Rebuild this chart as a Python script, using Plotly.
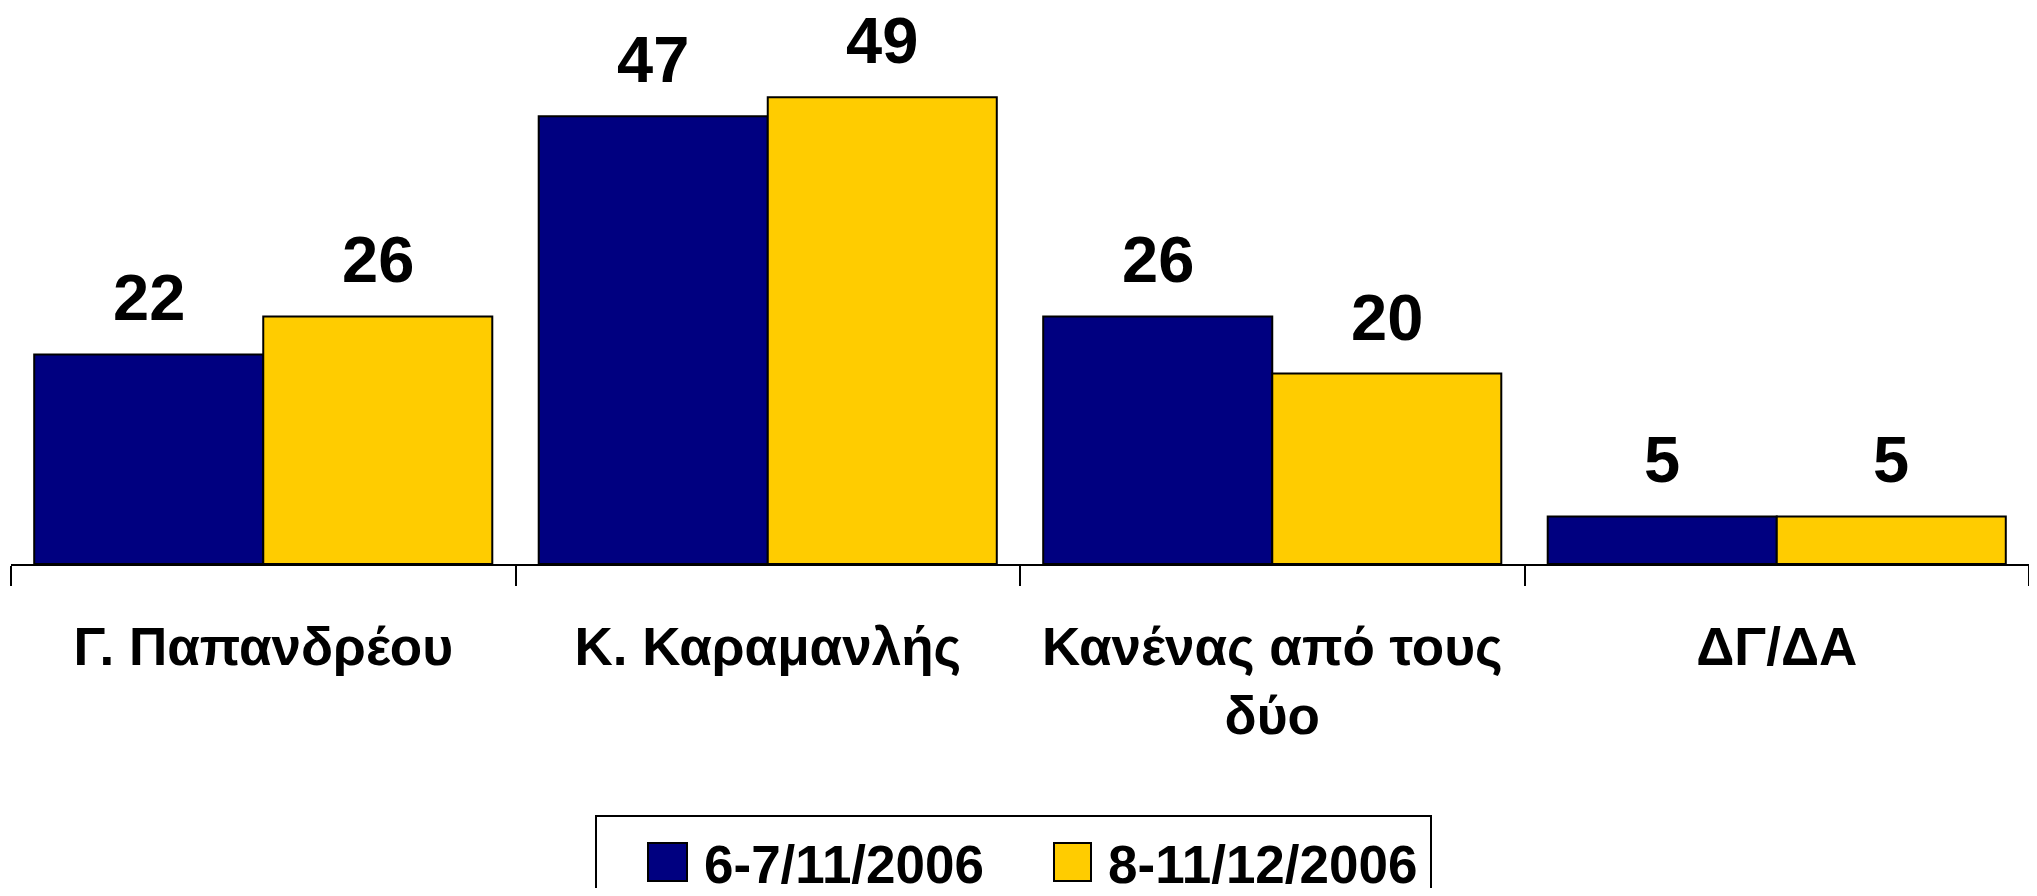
import plotly.graph_objects as go

categories = ["Γ. Παπανδρέου", "Κ. Καραμανλής", "Κανένας από τους<br>δύο", "ΔΓ/ΔΑ"]
series_names = ["6-7/11/2006", "8-11/12/2006"]
values_nov = [22, 47, 26, 5]
values_dec = [26, 49, 20, 5]
colors = ["#000080", "#FFCC00"]

# page offset: browser body margin of 8px
OFF = 8
W, H = 2037 - 2 * OFF, 896 - 2 * OFF
ML, MR, MT = 3, 0, 0
PLOT_H = 564 - OFF          # zero line at page y=564
MB = H - MT - PLOT_H
PX_PER_UNIT = 9.524
YMAX = PLOT_H / PX_PER_UNIT
BARGAP = 0.092
FAMILY = "Liberation Sans, Arial, sans-serif"


def mkfont(size):
    return dict(family=FAMILY, size=size, color="black")


fig = go.Figure()
for name, vals, col in zip(series_names, [values_nov, values_dec], colors):
    fig.add_trace(go.Bar(
        x=categories, y=vals, name=name,
        marker=dict(color=col, line=dict(color="black", width=2)),
        showlegend=False,
    ))

# value labels
half = (1 - BARGAP) / 4
annotations = []
for si, vals in enumerate([values_nov, values_dec]):
    off = -half if si == 0 else half
    for i, v in enumerate(vals):
        annotations.append(dict(
            x=i + off, y=v, xref="x", yref="y", text=f"<b>{v}</b>",
            showarrow=False, yanchor="bottom", yshift=18,
            font=mkfont(65),
        ))

# manual legend (paper coordinates from page pixel positions)
plot_w = W - ML - MR


def px(x):
    return (x - OFF - ML) / plot_w


def py(y):
    return (MT + PLOT_H - (y - OFF)) / PLOT_H


shapes = [
    dict(type="rect", xref="paper", yref="paper",
         x0=px(596), x1=px(1431), y0=py(900), y1=py(816),
         line=dict(color="black", width=2), fillcolor="white", layer="below"),
]
legend_items = [(648, 687, 702), (1054, 1091, 1106)]
for (sx0, sx1, tx), name, col in zip(legend_items, series_names, colors):
    shapes.append(dict(type="rect", xref="paper", yref="paper",
                       x0=px(sx0), x1=px(sx1), y0=py(881), y1=py(843),
                       line=dict(color="black", width=2), fillcolor=col))
    annotations.append(dict(
        x=px(tx), y=py(864), xref="paper", yref="paper",
        text=f"<b>{name}</b>", showarrow=False, xanchor="left", yanchor="middle",
        font=mkfont(53),
    ))

fig.update_layout(
    width=W, height=H,
    margin=dict(l=ML, r=MR, t=MT, b=MB, pad=0, autoexpand=False),
    paper_bgcolor="white", plot_bgcolor="white",
    barmode="group", bargap=BARGAP, bargroupgap=0,
    annotations=annotations, shapes=shapes,
    showlegend=False,
    font=dict(family=FAMILY, color="black"),
)
fig.update_xaxes(
    showline=True, linecolor="black", linewidth=2,
    ticks="outside", ticklen=20, tickwidth=2, tickcolor="black",
    tickson="boundaries", showgrid=False,
    tickfont=mkfont(53),
    tickprefix="<b>", ticksuffix="</b>",
    tickangle=0, automargin=False,
    ticklabelstandoff=35,
)
fig.update_yaxes(
    range=[0, YMAX], visible=False, showgrid=False, zeroline=False,
    automargin=False,
)

fig.write_html("out.html")
